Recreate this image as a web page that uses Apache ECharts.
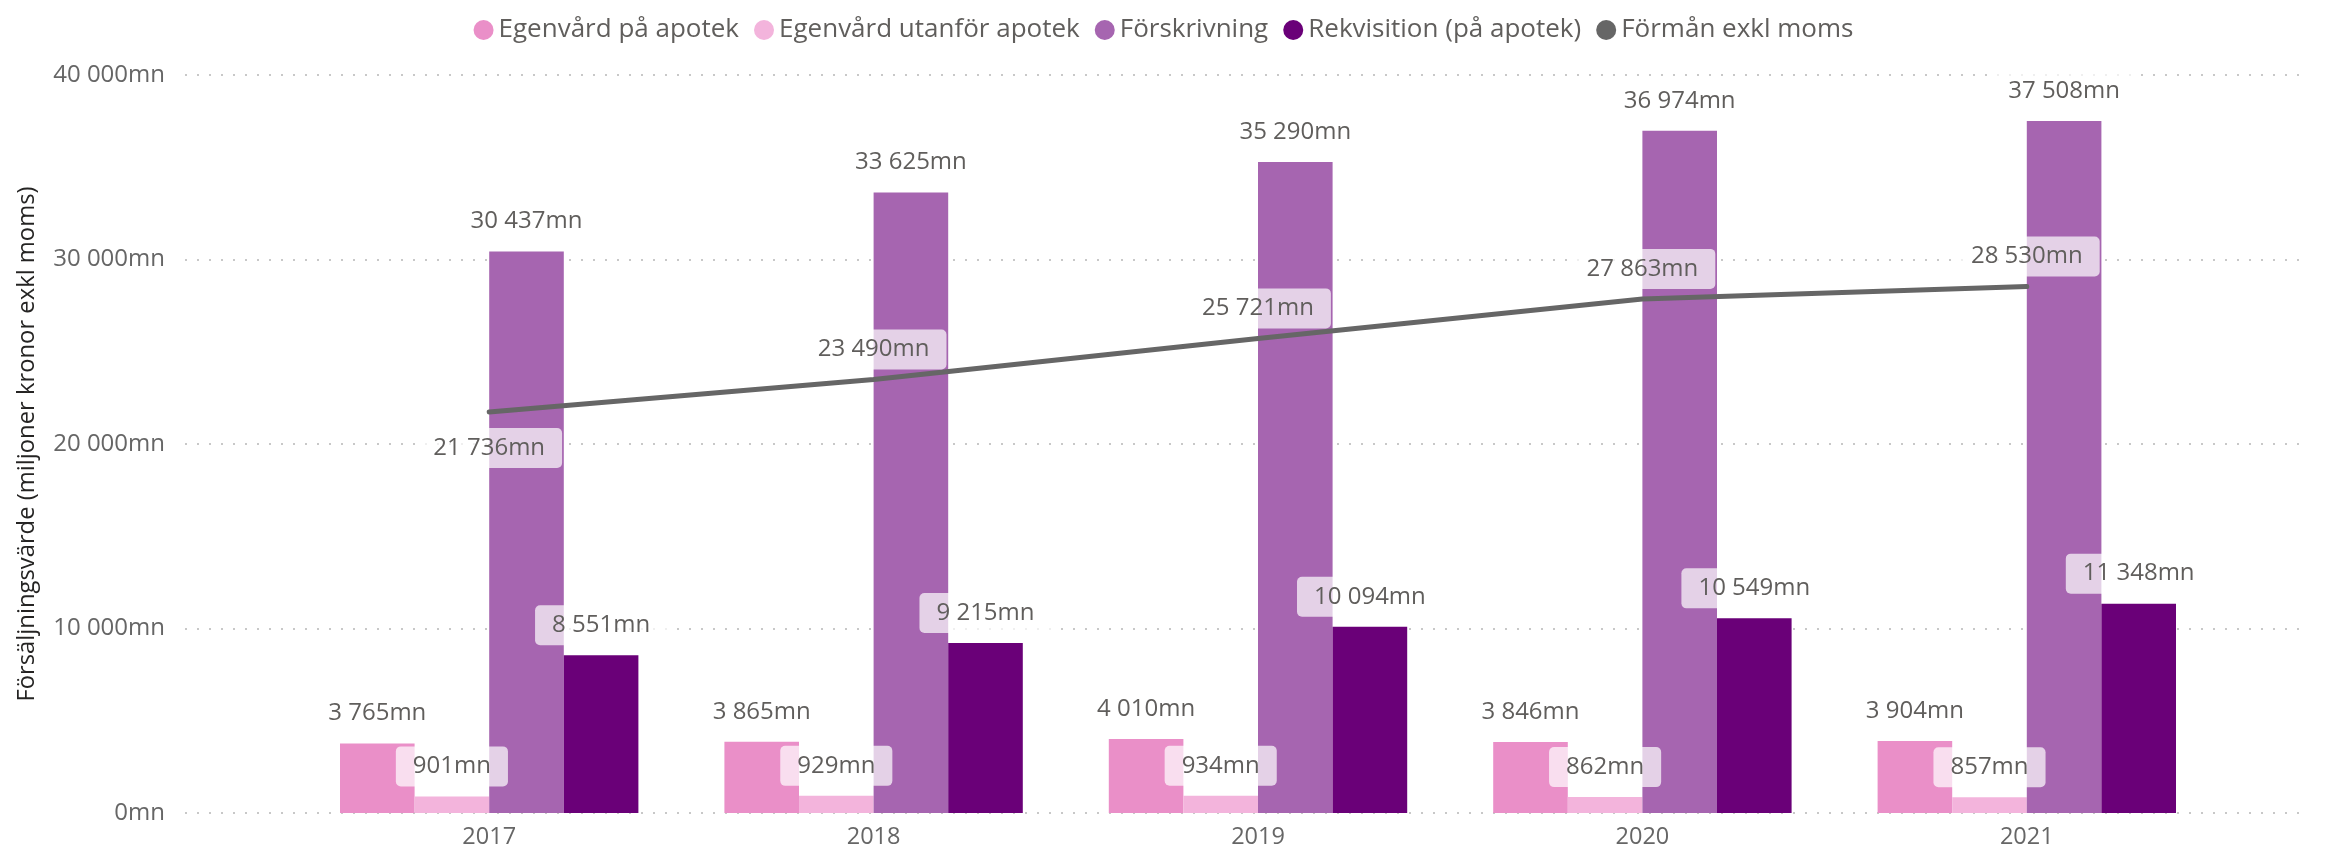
<!DOCTYPE html>
<html>
<head>
<meta charset="utf-8">
<script src="https://cdn.jsdelivr.net/npm/echarts@6/dist/echarts.min.js"></script>
<style>
  html, body { margin: 0; padding: 0; background: #fff; }
  #chart { width: 2327px; height: 851px; }
</style>
</head>
<body>
<div id="chart"></div>
<script>
// år
var years = ["2017", "2018", "2019", "2020", "2021"];
// försäljningsvärde, miljoner kronor exkl moms
var egenvardApotek = [3765, 3865, 4010, 3846, 3904];
var egenvardUtanfor = [901, 929, 934, 862, 857];
var forskrivning = [30437, 33625, 35290, 36974, 37508];
var rekvisition = [8551, 9215, 10094, 10549, 11348];
var formanExklMoms = [21736, 23490, 25721, 27863, 28530];
var yTicks = [0, 10000, 20000, 30000, 40000];

var FONT = '"Segoe UI", "Open Sans", sans-serif';
var LABEL_COLOR = "#605E5C";

function fmt(v) {
  return String(v).replace(/\B(?=(\d{3})+(?!\d))/g, " ") + "mn";
}

var dataLabel = {
  show: true,
  position: "top",
  distance: 10,
  fontFamily: FONT,
  fontSize: 24,
  lineHeight: 24,
  color: LABEL_COLOR,
  backgroundColor: "rgba(255,255,255,0.7)",
  borderRadius: 5,
  padding: [8, 17],
  formatter: function (p) { return fmt(p.value); }
};

function barSeries(name, color, data) {
  return {
    name: name,
    type: "bar",
    xAxisIndex: 1,
    yAxisIndex: 1,
    barWidth: 74.6,
    barGap: "0%",
    itemStyle: { color: color },
    label: dataLabel,
    data: data
  };
}

// första punkten på linjen har etiketten under
var lineData = formanExklMoms.map(function (v, i) {
  if (i === 0) {
    return { value: v, label: { position: "bottom", distance: 16 } };
  }
  return v;
});

var chart = echarts.init(document.getElementById("chart"));
var option = {
  animation: false,
  backgroundColor: "#ffffff",
  textStyle: { fontFamily: FONT },
  color: ["#EA8FC8", "#F3B4DC", "#A665B0", "#6A0078", "#666666"],
  legend: {
    top: 12,
    left: "center",
    icon: "circle",
    itemWidth: 20,
    itemHeight: 20,
    itemGap: 15,
    textStyle: { fontFamily: FONT, fontSize: 26, color: LABEL_COLOR },
    data: ["Egenvård på apotek", "Egenvård utanför apotek", "Förskrivning",
           "Rekvisition (på apotek)", "Förmån exkl moms"]
  },
  grid: [
    { left: 185, right: 18, top: 75, bottom: 38 },
    { left: 297, right: 108, top: 75, bottom: 38 }
  ],
  xAxis: [
    { gridIndex: 0, type: "value", show: false, min: 0, max: 1 },
    {
      gridIndex: 1,
      type: "category",
      data: years,
      axisLine: { show: false },
      axisTick: { show: false },
      axisLabel: { fontFamily: FONT, fontSize: 23.5, color: "#666666", margin: 12 }
    }
  ],
  yAxis: [
    {
      gridIndex: 0,
      type: "value",
      min: yTicks[0],
      max: yTicks[yTicks.length - 1],
      interval: yTicks[1] - yTicks[0],
      name: "Försäljningsvärde (miljoner kronor exkl moms)",
      nameLocation: "middle",
      nameGap: 146,
      nameTextStyle: { fontFamily: FONT, fontSize: 23.8, color: "#252423" },
      axisLine: { show: false },
      axisTick: { show: false },
      axisLabel: {
        fontFamily: FONT,
        fontSize: 24,
        color: "#666666",
        margin: 20,
        formatter: function (v) { return fmt(v); }
      },
      splitLine: {
        lineStyle: { color: "#C8C8C8", width: 2, type: [2, 10] }
      }
    },
    {
      gridIndex: 1,
      type: "value",
      show: false,
      min: yTicks[0],
      max: yTicks[yTicks.length - 1]
    }
  ],
  series: [
    barSeries("Egenvård på apotek", "#EA8FC8", egenvardApotek),
    barSeries("Egenvård utanför apotek", "#F3B4DC", egenvardUtanfor),
    barSeries("Förskrivning", "#A665B0", forskrivning),
    barSeries("Rekvisition (på apotek)", "#6A0078", rekvisition),
    {
      name: "Förmån exkl moms",
      type: "line",
      xAxisIndex: 1,
      yAxisIndex: 1,
      z: 3,
      showSymbol: true,
      symbol: "circle",
      symbolSize: 0.1,
      lineStyle: { color: "#666666", width: 5, cap: "round" },
      itemStyle: { color: "#666666" },
      label: dataLabel,
      data: lineData
    }
  ]
};
chart.setOption(option);
</script>
</body>
</html>
